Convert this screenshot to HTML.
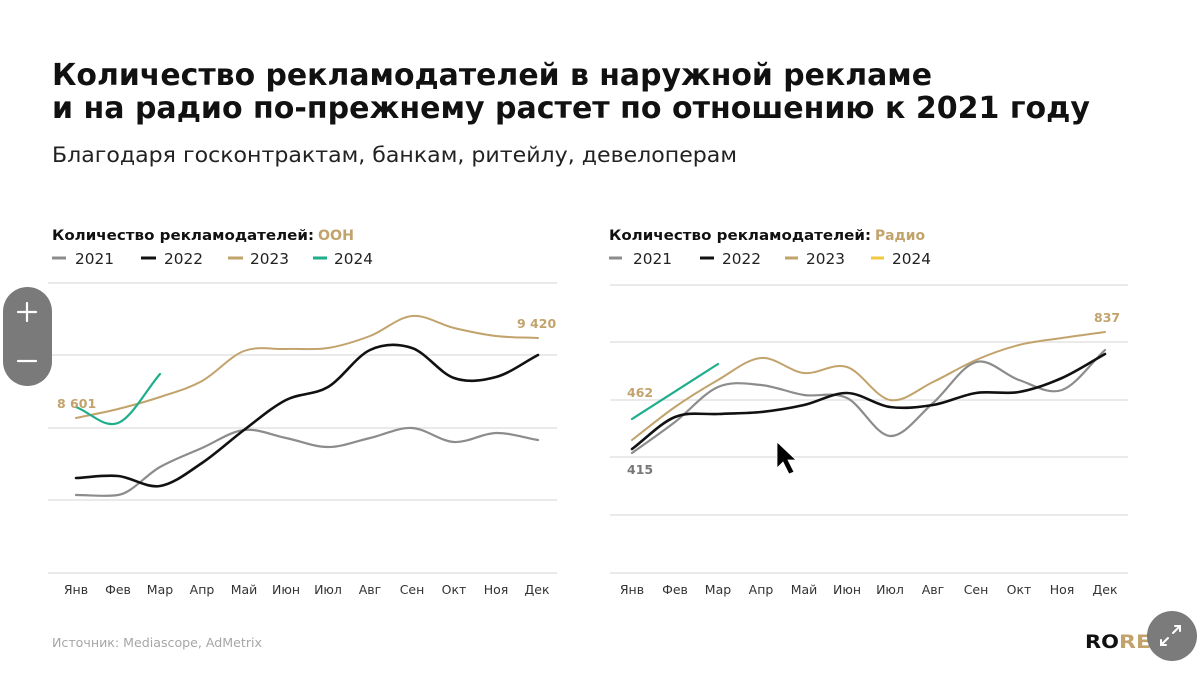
<!DOCTYPE html>
<html><head><meta charset="utf-8"><style>
html,body{margin:0;padding:0;background:#fff;}
svg{display:block;}
text{font-family:"DejaVu Sans","Liberation Sans",sans-serif;}
</style></head><body>
<svg width="1200" height="674" viewBox="0 0 1200 674" xmlns="http://www.w3.org/2000/svg">
<rect width="1200" height="674" fill="#fff"/>
<!-- Title -->
<text x="52" y="85" font-size="30" font-weight="bold" fill="#111" textLength="880" lengthAdjust="spacingAndGlyphs">Количество рекламодателей в наружной рекламе</text>
<text x="52" y="118" font-size="30" font-weight="bold" fill="#111" textLength="1038" lengthAdjust="spacingAndGlyphs">и на радио по-прежнему растет по отношению к 2021 году</text>
<text x="52" y="162" font-size="21" fill="#222" textLength="685" lengthAdjust="spacingAndGlyphs">Благодаря госконтрактам, банкам, ритейлу, девелоперам</text>

<!-- Left legend -->
<text x="52" y="240" font-size="14" font-weight="bold" fill="#111" textLength="262" lengthAdjust="spacingAndGlyphs">Количество рекламодателей:</text>
<text x="318" y="240" font-size="14" font-weight="bold" fill="#c2a36c" textLength="36" lengthAdjust="spacingAndGlyphs">ООН</text>
<g font-size="15" fill="#222">
<line x1="52" y1="258" x2="66" y2="258" stroke="#8c8c8c" stroke-width="3"/>
<text x="75" y="264" textLength="39" lengthAdjust="spacingAndGlyphs">2021</text>
<line x1="141" y1="258" x2="156" y2="258" stroke="#111" stroke-width="3"/>
<text x="164" y="264" textLength="39" lengthAdjust="spacingAndGlyphs">2022</text>
<line x1="228" y1="258" x2="243" y2="258" stroke="#c2a36c" stroke-width="3"/>
<text x="250" y="264" textLength="39" lengthAdjust="spacingAndGlyphs">2023</text>
<line x1="313" y1="258" x2="327" y2="258" stroke="#1fae8c" stroke-width="3"/>
<text x="334" y="264" textLength="39" lengthAdjust="spacingAndGlyphs">2024</text>
</g>

<!-- Right legend -->
<text x="609" y="240" font-size="14" font-weight="bold" fill="#111" textLength="262" lengthAdjust="spacingAndGlyphs">Количество рекламодателей:</text>
<text x="875" y="240" font-size="14" font-weight="bold" fill="#c2a36c" textLength="50" lengthAdjust="spacingAndGlyphs">Радио</text>
<g font-size="15" fill="#222">
<line x1="609" y1="258" x2="622" y2="258" stroke="#8c8c8c" stroke-width="3"/>
<text x="633" y="264" textLength="39" lengthAdjust="spacingAndGlyphs">2021</text>
<line x1="700" y1="258" x2="714" y2="258" stroke="#111" stroke-width="3"/>
<text x="722" y="264" textLength="39" lengthAdjust="spacingAndGlyphs">2022</text>
<line x1="785" y1="258" x2="798" y2="258" stroke="#c2a36c" stroke-width="3"/>
<text x="806" y="264" textLength="39" lengthAdjust="spacingAndGlyphs">2023</text>
<line x1="871" y1="258" x2="884" y2="258" stroke="#f0c93c" stroke-width="3"/>
<text x="892" y="264" textLength="39" lengthAdjust="spacingAndGlyphs">2024</text>
</g>

<!-- Left grid -->
<g stroke="#e3e3e3" stroke-width="1.5">
<line x1="48" y1="283" x2="557" y2="283"/>
<line x1="48" y1="355" x2="557" y2="355"/>
<line x1="48" y1="428" x2="557" y2="428"/>
<line x1="48" y1="500" x2="557" y2="500"/>
<line x1="48" y1="573" x2="557" y2="573"/>
</g>
<!-- Right grid -->
<g stroke="#e3e3e3" stroke-width="1.5">
<line x1="610" y1="285" x2="1128" y2="285"/>
<line x1="610" y1="342" x2="1128" y2="342"/>
<line x1="610" y1="400" x2="1128" y2="400"/>
<line x1="610" y1="457" x2="1128" y2="457"/>
<line x1="610" y1="515" x2="1128" y2="515"/>
<line x1="610" y1="573" x2="1128" y2="573"/>
</g>

<!-- Left months -->
<g font-size="12.5" fill="#333" text-anchor="middle">
<text x="76" y="594">Янв</text><text x="118" y="594">Фев</text><text x="160" y="594">Мар</text><text x="202" y="594">Апр</text><text x="244" y="594">Май</text><text x="286" y="594">Июн</text><text x="328" y="594">Июл</text><text x="370" y="594">Авг</text><text x="412" y="594">Сен</text><text x="454" y="594">Окт</text><text x="496" y="594">Ноя</text><text x="537" y="594">Дек</text>
</g>
<!-- Right months -->
<g font-size="12.5" fill="#333" text-anchor="middle">
<text x="632" y="594">Янв</text><text x="675" y="594">Фев</text><text x="718" y="594">Мар</text><text x="761" y="594">Апр</text><text x="804" y="594">Май</text><text x="847" y="594">Июн</text><text x="890" y="594">Июл</text><text x="933" y="594">Авг</text><text x="976" y="594">Сен</text><text x="1019" y="594">Окт</text><text x="1062" y="594">Ноя</text><text x="1105" y="594">Дек</text>
</g>

<!-- Left series -->
<g fill="none" stroke-linecap="round" stroke-linejoin="round">
<path d="M76,495 C90,495 104,497 118,495 S146,474.8 160,467 S188,454.2 202,448 S230,431.7 244,430 S272,435.2 286,438 S314,447 328,447 S356,441.2 370,438 S398,427.3 412,428 S440,441.2 454,442 S482,433.3 496,433 S524,437.7 538,440" stroke="#8c8c8c" stroke-width="2.2"/>
<path d="M76,418 C90,415 104,412.5 118,409 S146,401.7 160,397 S188,388.7 202,381 S230,356.3 244,351 S272,349.5 286,349 S314,350.2 328,348 S356,341.3 370,336 S398,317.3 412,316 S440,324.7 454,328 S482,334.3 496,336 S524,337.3 538,338" stroke="#c2a36c" stroke-width="2"/>
<path d="M76,478 C90,477.3 104,474.7 118,476 S146,488.2 160,486 S188,472.3 202,463 S230,440.5 244,430 S272,407.2 286,400 S314,395.3 328,387 S356,356.5 370,350 S398,343.3 412,348 S440,373.2 454,378 S482,380.8 496,377 S524,362.3 538,355" stroke="#111" stroke-width="2.6"/>
<path d="M76,407 C90,412.3 104,428.5 118,423 S146,390.3 160,374" stroke="#1fae8c" stroke-width="2.2"/>
</g>
<text x="57" y="408" font-size="12.5" font-weight="bold" fill="#c2a36c">8 601</text>
<text x="517" y="328" font-size="12.5" font-weight="bold" fill="#c2a36c">9 420</text>

<!-- Right series -->
<g fill="none" stroke-linecap="round" stroke-linejoin="round">
<path d="M632,453 C646.3,442.7 660.7,433 675,422 S703.7,393.2 718,387 S746.7,383.7 761,385 S789.7,392.8 804,395 S832.7,391.2 847,398 S875.7,435.2 890,436 S918.7,415.3 933,403 S961.7,365.8 976,362 S1004.7,375.3 1019,380 S1047.7,395 1062,390 S1090.7,363.3 1105,350" stroke="#8c8c8c" stroke-width="2.2"/>
<path d="M632,440 C646.3,429 660.7,417 675,407 S703.7,388.2 718,380 S746.7,359.2 761,358 S789.7,371.5 804,373 S832.7,362.5 847,367 S875.7,397.5 890,400 S918.7,388.7 933,382 S961.7,366.2 976,360 S1004.7,348.7 1019,345 S1047.7,340.2 1062,338 S1090.7,334 1105,332" stroke="#c2a36c" stroke-width="2"/>
<path d="M632,449 C646.3,438.3 660.7,422.8 675,417 S703.7,414.8 718,414 S746.7,413.5 761,412 S789.7,408.2 804,405 S832.7,392.7 847,393 S875.7,405 890,407 S918.7,407.3 933,405 S961.7,395.2 976,393 S1004.7,394.5 1019,392 S1047.7,384.3 1062,378 S1090.7,362 1105,354" stroke="#111" stroke-width="2.6"/>
<path d="M632,419 L718,364" stroke="#1fae8c" stroke-width="2.2"/>
</g>
<text x="627" y="397" font-size="12.5" font-weight="bold" fill="#c2a36c">462</text>
<text x="627" y="474" font-size="12.5" font-weight="bold" fill="#777">415</text>
<text x="1094" y="322" font-size="12.5" font-weight="bold" fill="#c2a36c">837</text>

<!-- Cursor -->
<path d="M777,442 L777,468 L783,462 L789,474 L794,472 L788,460 L796,460 Z" fill="#000" stroke="#fff" stroke-width="0.8"/>

<!-- Zoom widget -->
<rect x="3" y="287" width="49" height="99" rx="24.5" fill="#7a7a7a"/>
<g stroke="#fff" stroke-width="2.2" stroke-linecap="round">
<line x1="18" y1="312" x2="36" y2="312"/><line x1="27" y1="303" x2="27" y2="321"/>
<line x1="18" y1="361" x2="36" y2="361"/>
</g>

<!-- Source -->
<text x="52" y="647" font-size="12" fill="#a6a6a6" textLength="210" lengthAdjust="spacingAndGlyphs">Источник: Mediascope, AdMetrix</text>

<!-- Logo -->
<text x="1085" y="648" font-size="19" font-weight="bold" fill="#111" textLength="34" lengthAdjust="spacingAndGlyphs">RO</text>
<text x="1119" y="648" font-size="19" font-weight="bold" fill="#c2a36c" textLength="32" lengthAdjust="spacingAndGlyphs">RE</text>
<circle cx="1172" cy="636" r="25" fill="#707070" fill-opacity="0.92"/>
<g stroke="#fff" stroke-width="2" stroke-linecap="round">
<line x1="1173" y1="633" x2="1180" y2="626"/><line x1="1175" y1="626" x2="1180" y2="626"/><line x1="1180" y1="626" x2="1180" y2="631"/>
<line x1="1168" y1="638" x2="1161" y2="645"/><line x1="1161" y1="640" x2="1161" y2="645"/><line x1="1161" y1="645" x2="1166" y2="645"/>
</g>
</svg>
</body></html>
